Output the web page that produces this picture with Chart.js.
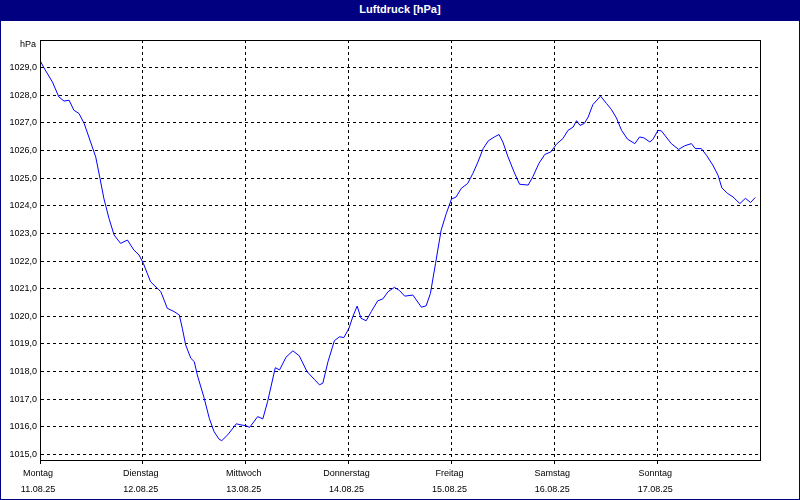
<!DOCTYPE html>
<html>
<head>
<meta charset="utf-8">
<title>Luftdruck</title>
<script src="https://cdn.jsdelivr.net/npm/chart.js@4/dist/chart.umd.min.js"></script>
<style>
  body { margin: 0; background: #fff; }
  #frame { width: 800px; height: 500px; box-sizing: border-box; border: 1px solid #000080; border-top: none; }
  #head { height: 21px; background: #000080; color: #fff; font: bold 11px "Liberation Sans", Arial, sans-serif; text-align: center; line-height: 19px; }
  #wrap { position: relative; width: 798px; height: 478px; }
</style>
</head>
<body>
<div id="frame">
  <div id="head">Luftdruck [hPa]</div>
  <div id="wrap"><canvas id="luftdruckChart"></canvas></div>
</div>
<script>
const days = ["Montag", "Dienstag", "Mittwoch", "Donnerstag", "Freitag", "Samstag", "Sonntag"];
const dates = ["11.08.25", "12.08.25", "13.08.25", "14.08.25", "15.08.25", "16.08.25", "17.08.25"];
const yUnit = "hPa";

// hours since Montag 00:00
const hours = [
  0, 0.9, 2.9, 4.4, 5.6, 6.8, 7.9, 9.1, 10.3, 11.8, 13.0, 14.0, 14.9, 16.1, 17.3, 18.8, 20.4, 21.9, 23.1,
  24.1, 25.8, 27.4, 28.2, 29.7, 31.3, 32.5, 33.2, 34.0, 35.2, 36.0, 36.7, 38.3, 39.5, 40.6, 41.8, 42.4, 43.8, 45.8, 46.9,
  48.1, 48.9, 50.8, 52.0, 53.1, 54.9, 55.9, 57.4, 59.0, 60.5, 62.3, 64.0, 65.2, 66.0, 67.2, 68.7, 69.9, 70.9,
  72.1, 73.0, 74.0, 74.9, 76.1, 77.3, 78.8, 80.0, 81.2, 82.7, 83.9, 85.1, 87.0, 89.0, 90.1, 91.1, 92.3, 93.6, 94.8,
  96.0, 97.1, 98.3, 99.8, 101.0, 102.2, 103.4, 104.6, 106.0, 107.1, 108.0, 109.2, 110.6, 111.9, 113.9, 115.0, 116.4, 117.8, 119.2,
  120.5, 122.0, 123.2, 124.4, 125.2, 126.0, 127.0, 127.9, 129.0, 130.8, 132.2, 133.3, 134.5, 135.7, 137.1, 138.8, 139.9, 140.9, 142.3, 143.0,
  144.2, 145.0, 146.1, 147.3, 149.0, 150.4, 152.0, 152.9, 154.3, 155.5, 157.0, 158.2, 159.1, 160.4, 161.7, 163.3, 164.6, 165.8, 166.9
];
const pressure = [
  1029.26, 1029.0, 1028.48, 1027.94, 1027.79, 1027.82, 1027.46, 1027.34, 1026.98, 1026.31, 1025.77, 1024.99, 1024.27, 1023.54, 1022.94, 1022.64, 1022.76, 1022.40, 1022.22,
  1021.92, 1021.25, 1021.01, 1020.89, 1020.29, 1020.17, 1020.05, 1019.57, 1018.96, 1018.48, 1018.36, 1017.88, 1017.04, 1016.31, 1015.83, 1015.55, 1015.50, 1015.71, 1016.11, 1016.07,
  1016.04, 1015.98, 1016.37, 1016.29, 1016.91, 1018.14, 1018.06, 1018.52, 1018.75, 1018.57, 1018.00, 1017.72, 1017.52, 1017.58, 1018.36, 1019.12, 1019.26, 1019.23,
  1019.57, 1019.99, 1020.37, 1019.93, 1019.84, 1020.17, 1020.56, 1020.63, 1020.89, 1021.05, 1020.93, 1020.73, 1020.77, 1020.33, 1020.38, 1020.83, 1021.92, 1023.12, 1023.72,
  1024.24, 1024.32, 1024.63, 1024.81, 1025.17, 1025.59, 1026.07, 1026.35, 1026.49, 1026.58, 1026.31, 1025.77, 1025.23, 1024.78, 1024.75, 1025.05, 1025.53, 1025.86, 1025.95,
  1026.23, 1026.43, 1026.73, 1026.85, 1027.08, 1026.91, 1026.98, 1027.21, 1027.66, 1027.97, 1027.70, 1027.49, 1027.18, 1026.73, 1026.41, 1026.25, 1026.49, 1026.46, 1026.31, 1026.40,
  1026.73, 1026.71, 1026.49, 1026.25, 1026.04, 1026.17, 1026.25, 1026.07, 1026.07, 1025.83, 1025.47, 1025.11, 1024.65, 1024.45, 1024.32, 1024.08, 1024.27, 1024.12, 1024.30
];

const yMin = 1014.8;
const yMax = 1030;
const yTicks = [1015, 1016, 1017, 1018, 1019, 1020, 1021, 1022, 1023, 1024, 1025, 1026, 1027, 1028, 1029];

document.addEventListener("DOMContentLoaded", () => {
  const ctx = document.getElementById("luftdruckChart");
  const font = { family: "'Liberation Sans', Arial, sans-serif", size: 9 };

  // frame round the plot + unit label
  const framePlugin = {
    id: "frame",
    afterDraw(chart) {
      const { ctx: c, chartArea: a } = chart;
      c.save();
      c.setLineDash([]);
      c.strokeStyle = "#000";
      c.lineWidth = 1;
      c.strokeRect(Math.round(a.left) + 0.5, Math.round(a.top) + 0.5, Math.round(a.right - a.left), Math.round(a.bottom - a.top));
      c.fillStyle = "#000";
      c.font = "9px " + font.family;
      c.textAlign = "right";
      c.textBaseline = "middle";
      c.fillText(yUnit, a.left - 4, a.top + 5);
      c.restore();
    }
  };

  new Chart(ctx, {
    type: "line",
    data: {
      datasets: [{
        data: hours.map((h, i) => ({ x: h, y: pressure[i] })),
        borderColor: "#0000ff",
        borderWidth: 1,
        pointRadius: 0,
        tension: 0,
        fill: false
      }]
    },
    options: {
      responsive: true,
      maintainAspectRatio: false,
      animation: false,
      layout: { padding: { top: 19, right: 39, left: 0, bottom: 0 } },
      plugins: { legend: { display: false }, tooltip: { enabled: false } },
      scales: {
        x: {
          type: "linear",
          min: 0,
          max: 168,
          afterBuildTicks: (s) => { s.ticks = [0, 24, 48, 72, 96, 120, 144].map(v => ({ value: v })); },
          afterFit: (s) => { s.height = 39; },
          ticks: {
            color: "#000",
            font: { ...font, lineHeight: 16 / 9 },
            padding: 2,
            labelOffset: -2,
            maxRotation: 0,
            autoSkip: false,
            callback: (v) => { const d = Math.round(v / 24); return [days[d], dates[d]]; }
          },
          grid: { color: "#000", lineWidth: 1, tickLength: 4, tickColor: "#000" },
          border: { display: true, color: "#000", dash: [3, 3] }
        },
        y: {
          min: yMin,
          max: yMax,
          afterBuildTicks: (s) => { s.ticks = yTicks.map(v => ({ value: v })); },
          afterFit: (s) => { s.width = 39; },
          ticks: {
            color: "#000",
            font: font,
            padding: 3,
            callback: (v) => v.toFixed(1).replace(".", ",")
          },
          grid: { color: "#000", lineWidth: 1, drawTicks: false },
          border: { display: true, color: "#000", dash: [3, 3] }
        }
      }
    },
    plugins: [framePlugin]
  });
});
</script>
</body>
</html>
